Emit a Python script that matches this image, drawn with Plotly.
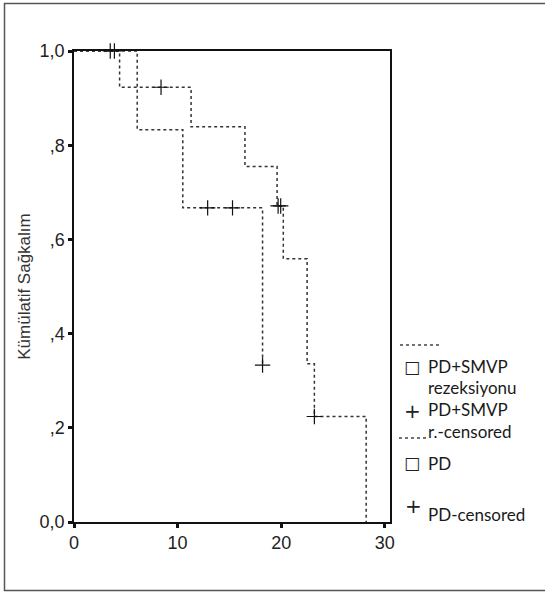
import plotly.graph_objects as go

# survival steps
smvp_t = [0, 6.1, 10.5, 18.2]
smvp_s = [1.0, 0.833, 0.667, 0.333]
smvp_cens_t = [3.5, 3.9, 12.9, 15.3, 18.2]
smvp_cens_s = [1.0, 1.0, 0.667, 0.667, 0.333]

pd_t = [0, 4.4, 11.3, 16.5, 19.6, 20.2, 22.5, 23.2, 28.2]
pd_s = [1.0, 0.923, 0.839, 0.755, 0.671, 0.559, 0.336, 0.224, 0.0]
pd_cens_t = [8.4, 19.7, 19.95, 23.2]
pd_cens_s = [0.923, 0.671, 0.671, 0.224]

x_ticks = [0, 10, 20, 30]
y_ticks = [0, 0.2, 0.4, 0.6, 0.8, 1.0]
y_ticktext = ['0,0', ',2', ',4', ',6', ',8', '1,0']

W, H = 545, 595
L, R, T, B = 74, 390, 51, 522


def px(x):
    return (x - L) / (R - L)


def py(y):
    return (B - y) / (B - T)


LINE = dict(color='#333333', width=1.5, dash='dot')
CROSS = dict(symbol='cross-thin', size=11, line=dict(color='#111111', width=1.2))

fig = go.Figure()
fig.add_trace(go.Scatter(x=smvp_t, y=smvp_s, mode='lines', line_shape='hv',
                         line=LINE, showlegend=False))
fig.add_trace(go.Scatter(x=pd_t, y=pd_s, mode='lines', line_shape='hv',
                         line=LINE, showlegend=False))
fig.add_trace(go.Scatter(x=smvp_cens_t, y=smvp_cens_s, mode='markers',
                         marker=CROSS, cliponaxis=False, showlegend=False))
fig.add_trace(go.Scatter(x=pd_cens_t, y=pd_cens_s, mode='markers',
                         marker=CROSS, cliponaxis=False, showlegend=False))

AX = dict(showline=True, linecolor='#111111', linewidth=1.5, mirror=True,
          ticks='outside', ticklen=4, tickwidth=3, tickcolor='#111111',
          showgrid=False, zeroline=False,
          tickfont=dict(family='Liberation Sans, Arial', size=18, color='#222222'))

fig.update_layout(
    width=W, height=H,
    margin=dict(l=L, r=W - R, t=T, b=H - B, autoexpand=False),
    paper_bgcolor='white', plot_bgcolor='white',
    xaxis=dict(range=[0, 30.5], tickvals=x_ticks, **AX),
    yaxis=dict(range=[0, 1], tickvals=y_ticks, ticktext=y_ticktext,
               title=dict(text='Kümülatif Sağkalım', standoff=5,
                          font=dict(family='Liberation Sans, Arial', size=17,
                                    color='#333333')),
               **AX),
    showlegend=False,
)

# outer frame of the picture
fig.add_shape(type='rect', xref='paper', yref='paper',
              x0=px(4.5), x1=px(560), y0=py(3.5), y1=py(590.5),
              line=dict(color='#555555', width=1.5))

# hand-made legend on the right
LEG = dict(family='Lato, Open Sans', size=17, color='#1a1a1a')
BOX = dict(family='DejaVu Sans', size=17, color='#222222')
PLUS = dict(family='DejaVu Sans', size=20, color='#222222')
fig.add_shape(type='line', xref='paper', yref='paper',
              x0=px(400), x1=px(442), y0=py(345), y1=py(345),
              line=dict(color='#444444', width=1.3, dash='dot'))
fig.add_shape(type='line', xref='paper', yref='paper',
              x0=px(399), x1=px(428), y0=py(438), y1=py(438),
              line=dict(color='#444444', width=1.3, dash='dot'))

legend_items = [
    ('□', 412, 367), ('PD+SMVP', 426, 366), ('rezeksiyonu', 426, 387),
    ('+', 412, 411), ('PD+SMVP', 426, 409), ('r.-censored', 426, 431),
    ('□', 412, 463), ('PD', 426, 463),
    ('+', 413, 506), ('PD-censored', 426, 514),
]
for text, x, y in legend_items:
    font = BOX if text == '□' else PLUS if text == '+' else LEG
    fig.add_annotation(text=text, xref='paper', yref='paper', x=px(x), y=py(y),
                       xanchor='left' if font is LEG else 'center',
                       yanchor='middle', showarrow=False, font=font)

fig.write_html('out.html', config={'displayModeBar': False},
               post_script="document.body.style.margin='0';")
